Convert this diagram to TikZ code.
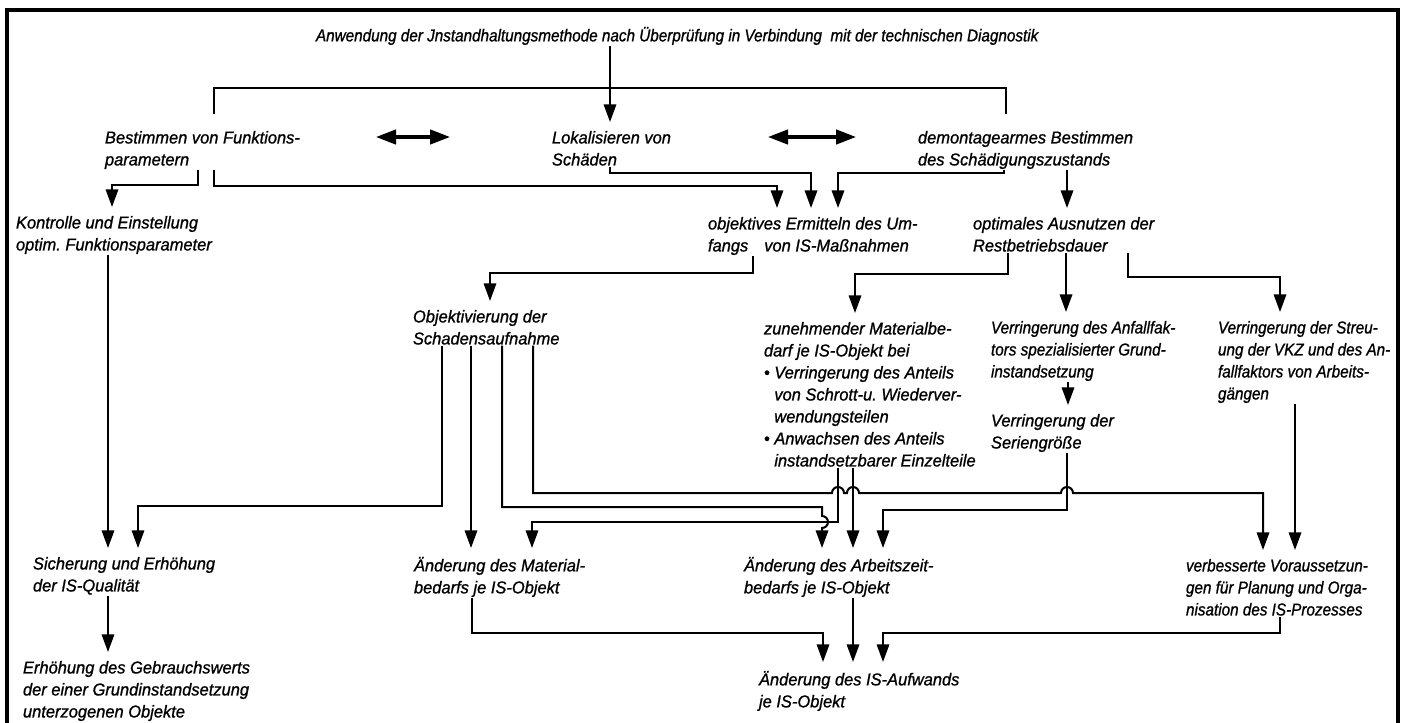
\documentclass[tikz,border=0pt]{standalone}
\usepackage{fontspec}
\newfontfamily\lett{Liberation Sans}[FakeStretch=0.96,FakeBold=1]
\newfontfamily\lettn{Liberation Sans}[FakeStretch=0.89,FakeBold=1]
\usetikzlibrary{arrows.meta,calc}

\begin{document}
\begin{tikzpicture}[x=0.25mm,y=-0.25mm,line width=0.5mm]
	\tikzstyle{txt}=[anchor=north west,align=left,inner sep=0pt,font=\lett\itshape\fontsize{12.2}{15.65}\selectfont]
	\tikzstyle{txtn}=[txt,font=\lettn\itshape\fontsize{12.2}{15.65}\selectfont]
	\tikzstyle{arr}=[-{Triangle[length=4.4mm,width=3.1mm]},shorten >=2mm]
	\tikzstyle{dbl}=[{Triangle[length=5mm,width=3.6mm]}-{Triangle[length=5mm,width=3.6mm]},line width=0.8mm]
	
	\useasboundingbox (0,0) rectangle (1410,723);
	\draw[line width=0.8mm] (7,723) -- (7,10) -- (1398,10) -- (1398,723);
	
	\node[txtn](t) at (315,26){Anwendung der Jnstandhaltungsmethode nach Überprüfung in Verbindung\ \ mit der technischen Diagnostik};
	
	\node[txt](b) at (104,130){Bestimmen von Funktions-\\parametern};
	\node[txt](l) at (551,130){Lokalisieren von\\Schäden};
	\node[txt](d) at (917,130){demontagearmes Bestimmen\\des Schädigungszustands};
	
	\node[txt](k) at (15,215){Kontrolle und Einstellung\\optim.\ Funktionsparameter};
	\node[txt](o) at (707,216){objektives Ermitteln des Um-\\fangs\hspace{4mm}von IS-Maßnahmen};
	\node[txt](p) at (972,216){optimales Ausnutzen der\\Restbetriebsdauer};
	
	\node[txt](v) at (412,309){Objektivierung der\\Schadensaufnahme};
	\node[txt](z) at (763,321){zunehmender Materialbe-\\darf je IS-Objekt bei\\• Verringerung des Anteils\\\hphantom{•\ }von Schrott-u.\ Wiederver-\\\hphantom{•\ }wendungsteilen\\• Anwachsen des Anteils\\\hphantom{•\ }instandsetzbarer Einzelteile};
	\node[txtn](f) at (990,320){Verringerung des Anfallfak-\\tors spezialisierter Grund-\\instandsetzung};
	\node[txt](g) at (990,413){Verringerung der\\Seriengröße};
	\node[txtn](r) at (1217,320){Verringerung der Streu-\\ung der VKZ und des An-\\fallfaktors von Arbeits-\\gängen};
	
	\node[txt](s) at (32,556){Sicherung und Erhöhung\\der IS-Qualität};
	\node[txt](m) at (413,556){Änderung des Material-\\bedarfs je IS-Objekt};
	\node[txt](a) at (743,556){Änderung des Arbeitszeit-\\bedarfs je IS-Objekt};
	\node[txtn](w) at (1185,558){verbesserte Voraussetzun-\\gen für Planung und Orga-\\nisation des IS-Prozesses};
	
	\node[txt](e) at (22,660){Erhöhung des Gebrauchswerts\\der einer Grundinstandsetzung\\unterzogenen Objekte};
	\node[txt](q) at (758,670){Änderung des IS-Aufwands\\je IS-Objekt};
	
	\draw[arr] ($(t.south west)+(295,0)$) -- ($(l.north west)+(59,0)$);
	\draw[shorten <=4mm,shorten >=4mm] ($(b.north west)+(110,0)$) |- (600,88) -| ($(d.north west)+(89,0)$);
	\draw[dbl] ($(b.north west)+(272,7)$) -- ($(l.north west)+(-101,7)$);
	\draw[dbl] ($(l.north west)+(217,7)$) -- ($(d.north west)+(-61,7)$);
	
	\draw[arr] ($(b.south west)+(94,0)$) |- (112,185) -- ($(k.north west)+(97,0)$);
	\draw[arr] ($(b.south west)+(110,0)$) |- (777,186) -- ($(o.north west)+(70,0)$);
	\draw[arr] ($(l.south west)+(59,0)$) |- (811,173) -- ($(o.north west)+(104,0)$);
	\draw[arr] ($(d.south west)+(87,0)$) |- (838,173) -- ($(o.north west)+(131,0)$);
	\draw[arr] ($(d.south west)+(150,0)$) -- ($(p.north west)+(95,0)$);
	
	\draw[arr] ($(k.south west)+(93,0)$) -- ($(s.north west)+(76,0)$);
	\draw[arr] ($(o.south west)+(46,0)$) |- (490,273) -- ($(v.north west)+(78,0)$);
	\draw[arr] ($(p.south west)+(36,0)$) |- (855,274) -- ($(z.north west)+(92,0)$);
	\draw[arr] ($(p.south west)+(94,0)$) -- ($(f.north west)+(76,0)$);
	\draw[arr] ($(p.south west)+(156,0)$) |- (1280,277) -- ($(r.north west)+(63,0)$);
	\draw[arr] ($(f.south west)+(78,0)$) -- ($(g.north west)+(78,0)$);
	\draw[arr] ($(r.south west)+(78,0)$) -- ($(w.north west)+(110,0)$);
	
	\draw[arr] ($(v.south west)+(30,0)$) |- (138,506) -- ($(s.north west)+(106,0)$);
	\draw[arr] ($(v.south west)+(59,0)$) -- ($(m.north west)+(58,0)$);
	\draw[arr] ($(v.south west)+(90,0)$) |- (822,507) -- (822,516) arc[start angle=90,end angle=-90,radius=1.5mm] -- ($(a.north west)+(79,0)$);
	\draw[arr] ($(v.south west)+(121,0)$) |- (832,493) arc[start angle=180,end angle=0,radius=1.5mm] -- (847,493) arc[start angle=180,end angle=0,radius=1.5mm] -- (1061,493) arc[start angle=180,end angle=0,radius=1.5mm] -- (1263,493) -- ($(w.north west)+(78,0)$);
	\draw[arr] ($(z.south west)+(75,0)$) |- (532,522) -- ($(m.north west)+(119,0)$);
	\draw[arr] ($(z.south west)+(90,0)$) -- ($(a.north west)+(110,0)$);
	\draw[arr] ($(g.south west)+(77,0)$) |- (883,510) -- ($(a.north west)+(140,0)$);
	
	\draw[arr] ($(s.south west)+(76,0)$) -- ($(e.north west)+(86,0)$);
	\draw[arr] ($(m.south west)+(59,0)$) |- (823,633) -- ($(q.north west)+(65,0)$);
	\draw[arr] ($(a.south west)+(110,0)$) -- ($(q.north west)+(95,0)$);
	\draw[arr] ($(w.south west)+(95,0)$) |- (883,633) -- ($(q.north west)+(125,0)$);
	
\end{tikzpicture}
\end{document}
